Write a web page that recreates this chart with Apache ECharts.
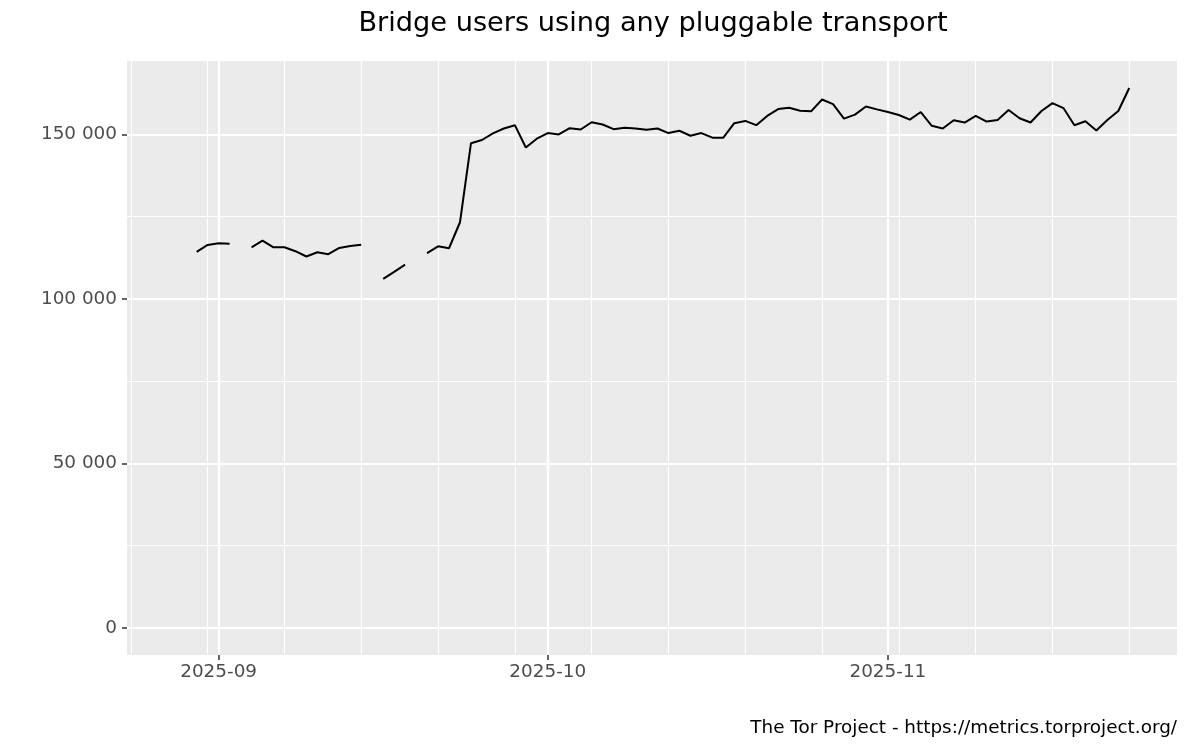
<!DOCTYPE html>
<html>
<head>
<meta charset="utf-8">
<script src="https://cdn.jsdelivr.net/npm/echarts@6/dist/echarts.min.js"></script>
<style>html,body{margin:0;padding:0;background:#fff}#c{width:1200px;height:750px}</style>
</head>
<body>
<div id="c"></div>
<script>
const dates = [
 '2025-08-30','2025-08-31','2025-09-01','2025-09-02','2025-09-03','2025-09-04','2025-09-05','2025-09-06','2025-09-07','2025-09-08',
 '2025-09-09','2025-09-10','2025-09-11','2025-09-12','2025-09-13','2025-09-14','2025-09-15','2025-09-16','2025-09-17','2025-09-18',
 '2025-09-19','2025-09-20','2025-09-21','2025-09-22','2025-09-23','2025-09-24','2025-09-25','2025-09-26','2025-09-27','2025-09-28',
 '2025-09-29','2025-09-30','2025-10-01','2025-10-02','2025-10-03','2025-10-04','2025-10-05','2025-10-06','2025-10-07','2025-10-08',
 '2025-10-09','2025-10-10','2025-10-11','2025-10-12','2025-10-13','2025-10-14','2025-10-15','2025-10-16','2025-10-17','2025-10-18',
 '2025-10-19','2025-10-20','2025-10-21','2025-10-22','2025-10-23','2025-10-24','2025-10-25','2025-10-26','2025-10-27','2025-10-28',
 '2025-10-29','2025-10-30','2025-10-31','2025-11-01','2025-11-02','2025-11-03','2025-11-04','2025-11-05','2025-11-06','2025-11-07',
 '2025-11-08','2025-11-09','2025-11-10','2025-11-11','2025-11-12','2025-11-13','2025-11-14','2025-11-15','2025-11-16','2025-11-17',
 '2025-11-18','2025-11-19','2025-11-20','2025-11-21','2025-11-22','2025-11-23'
];
const users = [
 114300,116400,116900,116800,null,115700,117700,115700,115700,114500,
 112900,114200,113600,115500,116100,116500,null,106100,108200,110400,
 null,113900,116000,115400,123300,147300,148300,150300,151800,152800,
 146000,148700,150400,150000,151900,151500,153700,153000,151600,152000,
 151800,151400,151800,150400,151100,149600,150400,149000,149000,153400,
 154100,152800,155600,157700,158100,157200,157000,160600,159200,154800,
 156000,158500,157600,156800,155900,154500,156800,152600,151800,154300,
 153600,155600,153900,154400,157400,154900,153600,157100,159500,158000,
 152800,154000,151200,154400,157100,164100
];
const majorDates = ['2025-09-01','2025-10-01','2025-11-01'];
const minorDates = ['2025-08-24','2025-08-31','2025-09-07','2025-09-14','2025-09-21','2025-09-28','2025-10-05',
 '2025-10-12','2025-10-19','2025-10-26','2025-11-02','2025-11-09','2025-11-16','2025-11-23'];
const yMajor = [0, 50000, 100000, 150000];
const yMinor = [25000, 75000, 125000];
const titleText = 'Bridge users using any pluggable transport';
const captionText = 'The Tor Project - https://metrics.torproject.org/';

const DAY = 86400000;
function toMs(s){ const p = s.split('-').map(Number); return Date.UTC(p[0], p[1]-1, p[2]); }
const seriesData = dates.map((d, i) => [toMs(d), users[i]]);
const xFirst = toMs(dates[0]) - 2*DAY, xLast = toMs(dates[dates.length-1]);
const xSpan = xLast - xFirst;
const xMin = xFirst - 0.05*xSpan, xMax = xLast + 0.05*xSpan;
const yLo = 0, yHi = Math.max(...users.filter(v => v != null));
const yMin = yLo - 0.05*(yHi-yLo), yMax = yHi + 0.05*(yHi-yLo);

const font = 'DejaVu Sans';
function fmtY(v){ return String(Math.round(v)).replace(/\B(?=(\d{3})+(?!\d))/g, ' '); }
function fmtX(v){ const d = new Date(v); return d.getUTCFullYear() + '-' + String(d.getUTCMonth()+1).padStart(2,'0'); }

const chart = echarts.init(document.getElementById('c'), null, {renderer:'canvas'});
chart.setOption({
  animation: false,
  backgroundColor: '#ffffff',
  title: {
    text: titleText, left: 648, top: 5, textAlign: 'center',
    textStyle: {fontFamily: font, fontSize: 27.2, fontWeight: 'normal', color: '#000'}
  },
  graphic: [{
    type: 'text', right: 23, top: 719,
    style: {text: captionText, fontFamily: font, fontSize: 18.4, fill: '#000', textAlign: 'right'}
  }],
  grid: {left: 127, right: 23, top: 61, bottom: 95, show: true, backgroundColor: '#EBEBEB', borderWidth: 0},
  xAxis: [{
    type: 'value', min: xMin, max: xMax, z: 2, position: 'bottom',
    axisLine: {show: false, onZero: false},
    axisTick: {show: true, customValues: majorDates.map(toMs), length: 5, lineStyle: {color: '#333333', width: 1.5}},
    axisLabel: {customValues: majorDates.map(toMs), formatter: fmtX, fontFamily: font, fontSize: 18.4, color: '#4D4D4D', margin: 8},
    splitLine: {show: true, lineStyle: {color: '#ffffff', width: 2.2}}
  }, {
    type: 'value', min: xMin, max: xMax, position: 'bottom', z: 1,
    axisLine: {show: false, onZero: false},
    axisTick: {show: true, customValues: minorDates.map(toMs), length: 0, lineStyle: {color: 'rgba(0,0,0,0)'}},
    axisLabel: {show: false},
    splitLine: {show: true, lineStyle: {color: '#ffffff', width: 1.1}}
  }],
  yAxis: [{
    type: 'value', min: yMin, max: yMax, z: 2, position: 'left',
    axisLine: {show: false, onZero: false},
    axisTick: {show: true, customValues: yMajor, length: 5, lineStyle: {color: '#333333', width: 1.5}},
    axisLabel: {customValues: yMajor, formatter: fmtY, fontFamily: font, fontSize: 18.4, color: '#4D4D4D', margin: 10},
    splitLine: {show: true, lineStyle: {color: '#ffffff', width: 2.2}}
  }, {
    type: 'value', min: yMin, max: yMax, position: 'left', z: 1,
    axisLine: {show: false, onZero: false},
    axisTick: {show: true, customValues: yMinor, length: 0, lineStyle: {color: 'rgba(0,0,0,0)'}},
    axisLabel: {show: false},
    splitLine: {show: true, lineStyle: {color: '#ffffff', width: 1.1}}
  }],
  series: [{
    type: 'line', xAxisIndex: 0, yAxisIndex: 0,
    data: seriesData, showSymbol: false, connectNulls: false,
    lineStyle: {color: '#000000', width: 2}, z: 5
  }]
});
</script>
</body>
</html>
